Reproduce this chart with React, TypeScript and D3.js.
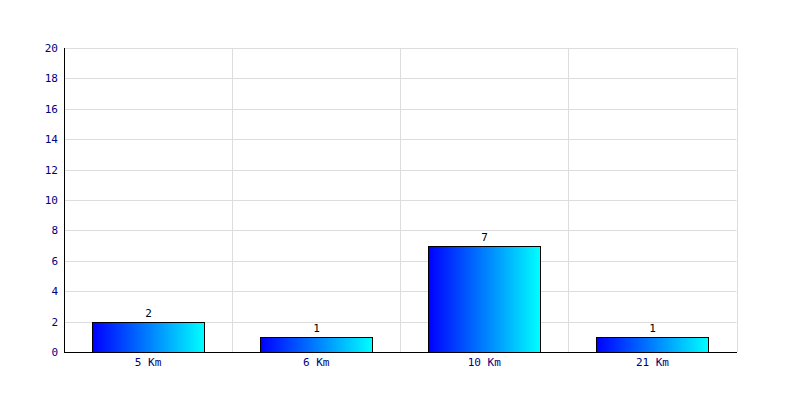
import React from "react";
import * as d3 from "d3";

const categories = ["5 Km", "6 Km", "10 Km", "21 Km"];
const values = [2, 1, 7, 1];
const yTicks = [0, 2, 4, 6, 8, 10, 12, 14, 16, 18, 20];

export default function App() {
  const W = 800, H = 400;
  const left = 64, right = 736.5, top = 48, bottom = 352;
  const x = d3.scaleBand<string>().domain(categories).range([left, right]).paddingInner(0).paddingOuter(0);
  const y = d3.scaleLinear().domain([0, 20]).range([bottom, top]);
  const bw = x.bandwidth();
  const barW = bw * (112 / 168);
  const font = "'DejaVu Sans Mono', monospace";
  return (
    <svg width={W} height={H} style={{ position: "absolute", left: 0, top: 0, background: "#fff" }}>
      <defs>
        <linearGradient id="g" x1="0" x2="1" y1="0" y2="0">
          <stop offset="0" stopColor="#0000ff" />
          <stop offset="1" stopColor="#00ffff" />
        </linearGradient>
      </defs>
      {yTicks.map((t) => (
        <line key={"h" + t} x1={left} x2={right} y1={Math.round(y(t)) + 0.5} y2={Math.round(y(t)) + 0.5} stroke="#dddddd" />
      ))}
      {categories.map((c) => (
        <line key={"v" + c} x1={Math.round(x(c)! + bw) + 0.5} x2={Math.round(x(c)! + bw) + 0.5} y1={top} y2={bottom} stroke="#dddddd" />
      ))}
      {categories.map((c, i) => {
        const x0 = Math.round(x(c)! + (bw - barW) / 2) + 0.5;
        const yt = Math.round(y(values[i])) + 0.5;
        return (
          <g key={c}>
            <rect x={x0} y={yt} width={Math.round(barW)} height={Math.round(y(0)) + 0.5 - yt} fill="url(#g)" stroke="#000" strokeWidth={1} />
            <text x={x0 + barW / 2} y={yt - 6} textAnchor="middle" fontFamily={font} fontSize={11} fill="#000">{values[i]}</text>
            <text x={x(c)! + bw / 2} y={366} textAnchor="middle" fontFamily={font} fontSize={11} fill="#000080">{c}</text>
          </g>
        );
      })}
      <line x1={left + 0.5} x2={left + 0.5} y1={top} y2={bottom} stroke="#000" />
      <line x1={left} x2={right + 0.5} y1={bottom + 0.5} y2={bottom + 0.5} stroke="#000" />
      {yTicks.map((t) => (
        <text key={"t" + t} x={58} y={y(t) + 4} textAnchor="end" fontFamily={font} fontSize={11} fill="#000080">{t}</text>
      ))}
    </svg>
  );
}
